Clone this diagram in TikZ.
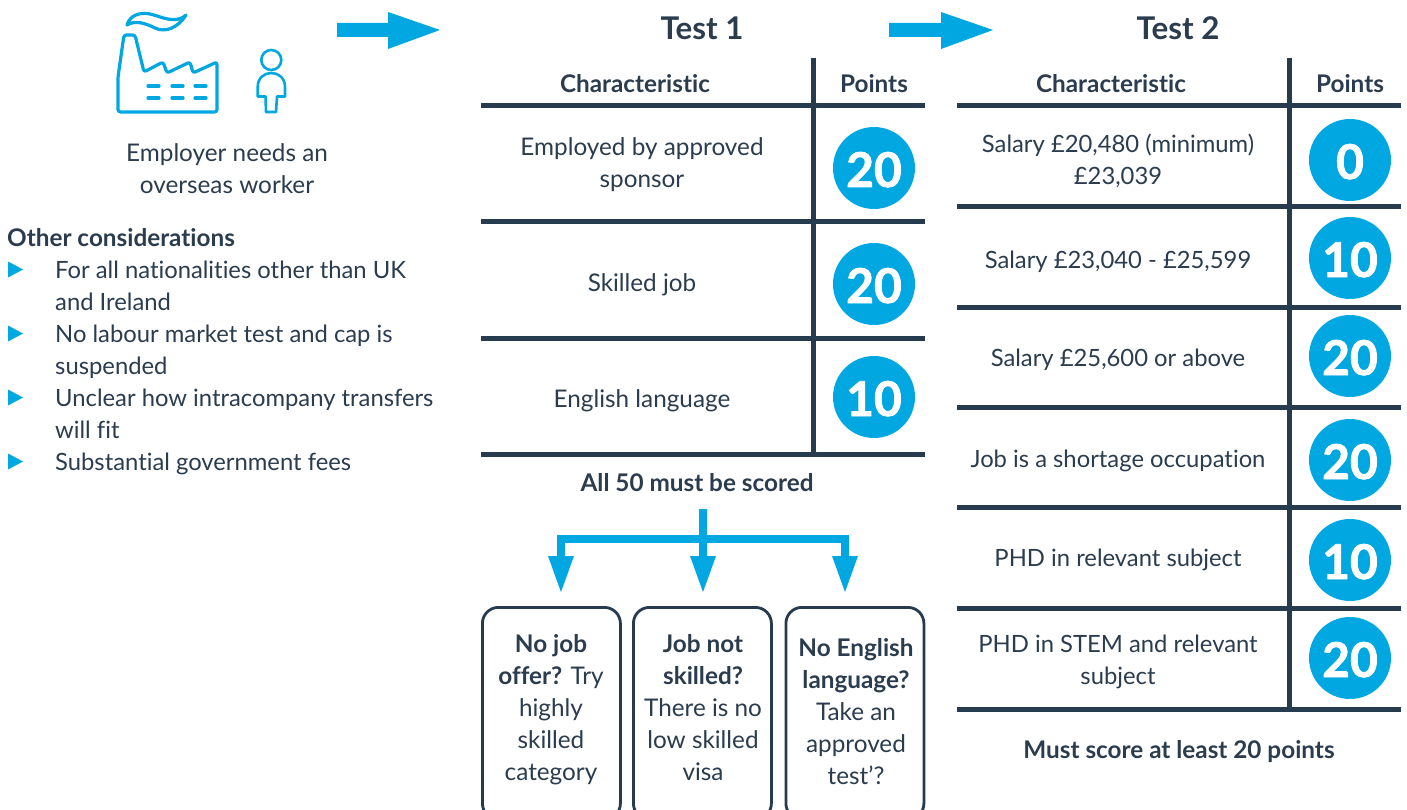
\documentclass[tikz,border=0pt]{standalone}
\usepackage{fontspec}
\setmainfont{Lato}[Ligatures={NoCommon}]
\newfontfamily\badgefont{Lato}[BoldFeatures={FakeBold=1.6}]
\definecolor{ink}{HTML}{2A3C4E}
\definecolor{rule}{HTML}{263B4D}
\definecolor{sky}{HTML}{00A7E1}
\tikzset{
  txt/.style={text=ink,font=\fontsize{24.3}{32}\selectfont,align=center,inner sep=0pt,anchor=base,yshift=-1.6pt},
  cell/.style={txt,font=\fontsize{23.8}{32}\selectfont},
  hd/.style={txt,font=\fontsize{24.3}{32}\selectfont\bfseries},
  ttl/.style={txt,font=\fontsize{31.3}{34}\selectfont\bfseries},
  lft/.style={txt,font=\fontsize{23.8}{32}\selectfont,align=left,anchor=base west},
  badge/.style={circle,fill=sky,minimum size=82pt,inner sep=0pt,text=white,text height=40pt,text depth=2pt,font=\badgefont\fontsize{48}{50}\selectfont\bfseries},
  tbl/.style={draw=rule,line width=5pt},
  box/.style={draw=rule,line width=2.8pt,rounded corners=16pt,anchor=north west,inner sep=0pt},
  icon/.style={draw=sky,line width=3.2pt,line join=round,line cap=round},
  blockarrow/.style={fill=sky},
  branch/.style={draw=sky,line width=8pt},
  bullet/.style={fill=sky}
}
\begin{document}
\begin{tikzpicture}[x=1pt,y=-1pt]
\useasboundingbox (0,0) rectangle (1407,810);
\clip (0,0) rectangle (1407,810);
% factory icon
\draw[icon,rounded corners=2.5pt] (118,112) -- (118,77) -- (124,35) -- (135,35) -- (144,72) -- (163,62) -- (167,73) -- (190,62) -- (193,73) -- (217,62) -- (217,112) -- cycle;
\foreach \yy in {86,98}{\foreach \xx in {148,172,195}{\draw[icon] (\xx,\yy) -- ++(11,0);}}
\draw[icon] (127,25) .. controls (130,15) and (140,12) .. (150,14) .. controls (160,16) and (175,25) .. (186,15) .. controls (178,28) and (165,33) .. (155,28) .. controls (145,23) and (135,20) .. (127,25) -- cycle;
% person icon
\draw[sky,line width=2.6pt] (271.3,60) circle (10);
\draw[sky,line width=2.6pt,line join=round] (257.7,96.5) -- (257.7,87) .. controls (257.7,78) and (264,73) .. (271.3,73) .. controls (278.6,73) and (285,78) .. (285,87) -- (285,96.5) -- (277,96.5) -- (276,112) -- (266,112) -- (265.5,96.5) -- cycle;
\node[txt] (emp) at (227,192) {Employer needs an\\overseas worker};
% block arrows
\coordinate (a1) at (337,30); \coordinate (a1t) at (440,30);
\coordinate (a2) at (889,30); \coordinate (a2t) at (993,30);
\fill[blockarrow] (a1)++(0,-7) -- ++(51,0) -- ++(0,-11) -- (a1t) -- (388,49) -- (388,37) -- (337,37) -- cycle;
\fill[blockarrow] (a2)++(0,-7) -- ++(52,0) -- ++(0,-11) -- (a2t) -- (941,49) -- (941,37) -- (889,37) -- cycle;
% left list
\node[lft,font=\fontsize{24.3}{32}\selectfont\bfseries] (oc) at (7,245) {Other considerations};
\foreach \yy in {269.5,333.5,397.5,461.5}{\fill[bullet] (8,\yy-8) -- (23,\yy) -- (8,\yy+8) -- cycle;}
\node[lft] (l1) at (55,309) {For all nationalities other than UK\\and Ireland};
\node[lft] (l2) at (55,373) {No labour market test and cap is\\suspended};
\node[lft] (l3) at (55,437) {Unclear how intracompany transfers\\will fit};
\node[lft] (l4) at (55,469) {Substantial government fees};
% test 1
\node[ttl] (t1) at (702,38) {Test 1};
\draw[tbl] (813,58) -- (813,456.5);
\foreach \yy in {106,222,338,454}{\draw[tbl] (481,\yy) -- (925,\yy);}
\node[hd] (c1) at (635,91) {Characteristic};
\node[hd] (p1) at (874,91) {Points};
\node[txt] at (642,186) {Employed by approved\\sponsor};
\node[txt] at (642,290) {Skilled job};
\node[txt] at (642,406) {English language};
\node[badge] at (874,168) {20};
\node[badge] at (874,284) {20};
\node[badge] at (874,397) {10};
\node[hd] (all) at (697,490) {All 50 must be scored};
% branches
\coordinate (b0) at (703,509);
\coordinate (b1) at (561,539);
\coordinate (b3) at (845,539);
\draw[branch] (b0) -- (703,560);
\draw[branch,line join=miter] (561,560) -- (b1) -- (b3) -- (845,560);
\fill[sky] (548,556) -- (574,556) -- (561,592) -- cycle;
\fill[sky] (690,556) -- (716,556) -- (703,592) -- cycle;
\fill[sky] (832,556) -- (858,556) -- (845,592) -- cycle;
% bottom boxes
\node[box,minimum width=138pt,minimum height=212pt] (x1) at (481,606) {};
\node[box,minimum width=138pt,minimum height=212pt] (x2) at (632,606) {};
\node[box,minimum width=138pt,minimum height=212pt] (x3) at (784.5,606) {};
\node[txt] at (551,779) {\textbf{No job}\\\textbf{offer?} Try\\highly\\skilled\\category};
\node[txt] at (703,779) {\textbf{Job not}\\\textbf{skilled?}\\There is no\\low skilled\\visa};
\node[txt] at (856,783) {\textbf{No English}\\\textbf{language?}\\Take an\\approved\\test’?};
% test 2
\node[ttl] (t2) at (1178,38) {Test 2};
\draw[tbl] (1289,58) -- (1289,711.5);
\foreach \yy in {106,207,307,407,507,608,709}{\draw[tbl] (957,\yy) -- (1401,\yy);}
\node[hd] (c2) at (1111,91) {Characteristic};
\node[hd] (p2) at (1350,91) {Points};
\node[cell] at (1118,183) {Salary £20,480 (minimum)\\£23,039};
\node[cell] at (1118,267) {Salary £23,040 - £25,599};
\node[cell] at (1118,365) {Salary £25,600 or above};
\node[cell] at (1118,466) {Job is a shortage occupation};
\node[cell] at (1118,565) {PHD in relevant subject};
\node[cell] at (1118,683) {PHD in STEM and relevant\\subject};
\node[badge] at (1350,160) {0};
\node[badge] at (1350,258) {10};
\node[badge] at (1350,356) {20};
\node[badge] at (1350,460) {20};
\node[badge] at (1350,560) {10};
\node[badge] at (1350,658) {20};
\node[hd] (must) at (1179,757) {Must score at least 20 points};
\end{tikzpicture}
\end{document}
